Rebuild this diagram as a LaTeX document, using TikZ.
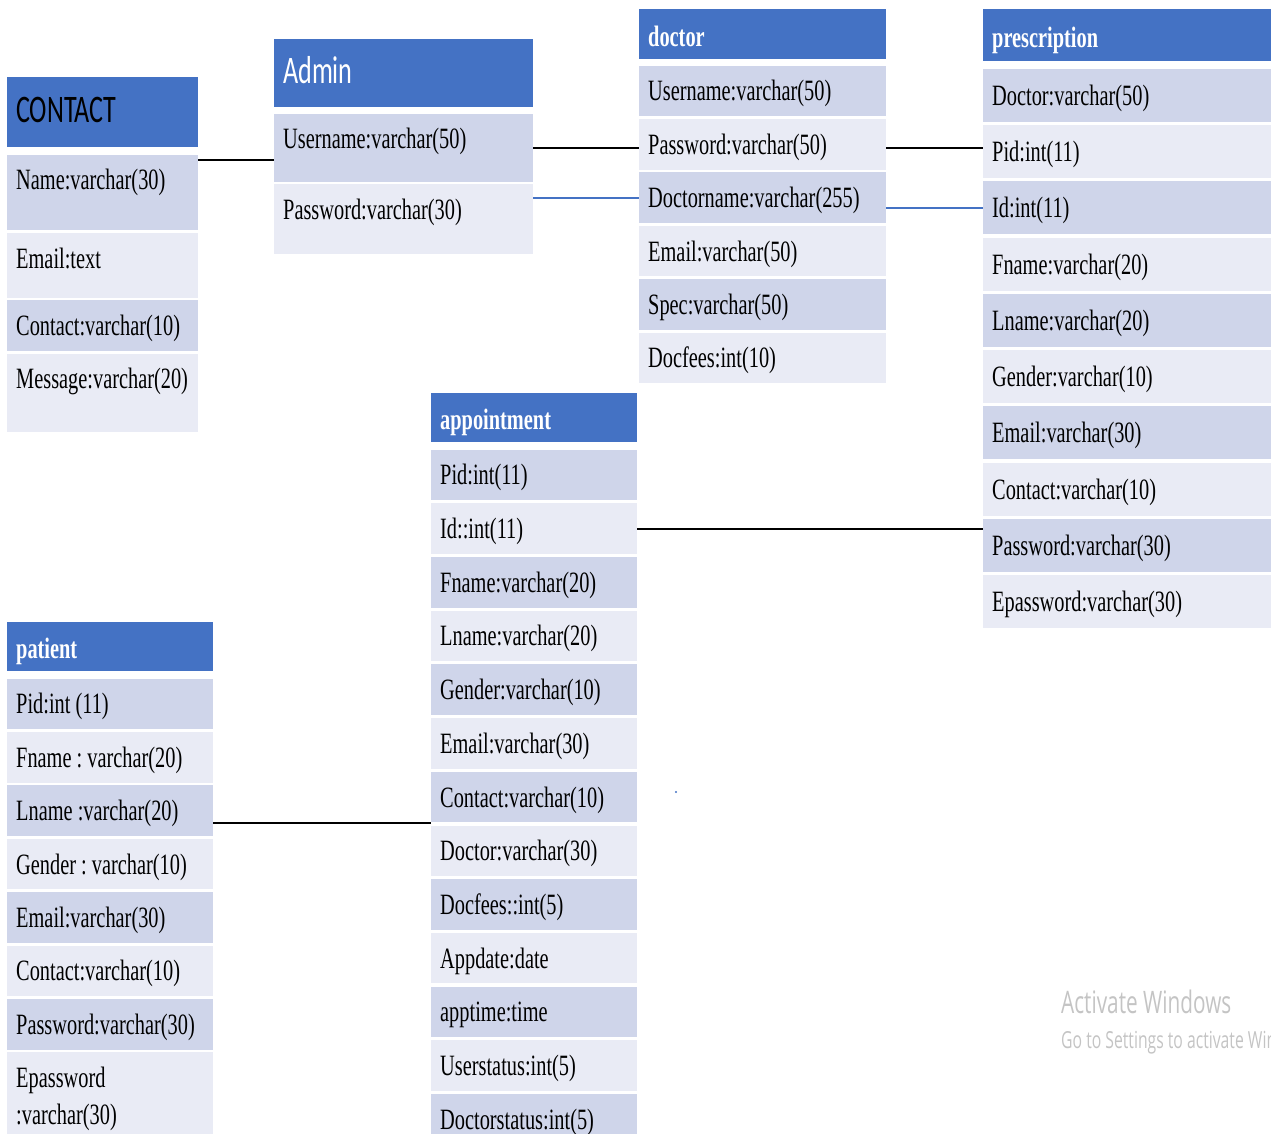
\documentclass[tikz,border=0pt]{standalone}
\usepackage{fontspec}
\usetikzlibrary{positioning}
\newfontfamily\cellfont[FakeStretch=0.69]{Liberation Serif}
\newfontfamily\headsans[FakeStretch=0.67]{Carlito}
\newfontfamily\winfont[FakeStretch=0.67]{Open Sans}
\definecolor{headblue}{HTML}{4472C4}
\definecolor{rowdark}{HTML}{CFD5EA}
\definecolor{rowlight}{HTML}{E9EBF5}
\definecolor{wingray}{HTML}{C4C4C4}
\tikzset{
  tbl head/.style={fill=headblue, text=white, anchor=north west,
    inner xsep=9pt, inner ysep=0pt, align=left,
    text height=24pt, text depth=0pt,
    font=\cellfont\bfseries\fontsize{29.5pt}{36pt}\selectfont},
  sans head/.style={tbl head, text height=20pt,
    font=\headsans\fontsize{39pt}{44pt}\selectfont},
  tbl cell/.style={inner xsep=9pt, inner ysep=0pt, align=left,
    text height=23pt, text depth=3pt, minimum height=50.5pt,
    execute at begin node={\frenchspacing\spaceskip=0pt\xspaceskip=0pt},
    font=\cellfont\fontsize{29.5pt}{37pt}\selectfont},
  row dark/.style={tbl cell, fill=rowdark},
  row light/.style={tbl cell, fill=rowlight},
  top cell/.style={text height=35pt, text depth=#1, minimum height=0pt},
  contact tbl/.style={text width=173pt},
  admin tbl/.style={text width=241pt},
  doctor tbl/.style={text width=229pt},
  presc tbl/.style={text width=299pt, minimum height=53pt},
  appt tbl/.style={text width=188pt},
  patient tbl/.style={text width=188pt},
  link/.style={draw=black, line width=2pt},
  blue link/.style={draw=headblue, line width=1.8pt},
}

\begin{document}
\begin{tikzpicture}[x=1pt, y=1pt]
  \useasboundingbox (0,0) rectangle (1271,-1133);

  % CONTACT
  \node[sans head, contact tbl, text=black, minimum height=70pt] (chead) at (7,-77) {CONTACT};
  \node[row dark, contact tbl, top cell=40pt, below=7pt of chead] (cname) {Name:varchar(30)};
  \node[row light, contact tbl, top cell=30pt, below=3pt of cname] (cemail) {Email:text};
  \node[row dark, contact tbl, top cell=16pt, below=2pt of cemail] (ccontact) {Contact:varchar(10)};
  \node[row light, contact tbl, top cell=43pt, below=2pt of ccontact] (cmsg) {Message:varchar(20)};

  % Admin
  \node[sans head, admin tbl, minimum height=68pt] (adhead) at (274,-39) {Admin};
  \node[row dark, admin tbl, top cell=33pt, below=6pt of adhead] (aduser) {Username:varchar(50)};
  \node[row light, admin tbl, top cell=35pt, below=2pt of aduser] (adpass) {Password:varchar(30)};

  % doctor
  \node[tbl head, doctor tbl, minimum height=50pt] (dhead) at (639,-9) {doctor};
  \node[row dark, doctor tbl, below=6pt of dhead] (duser) {Username:varchar(50)};
  \node[row light, doctor tbl, below=2.5pt of duser] (dpass) {Password:varchar(50)};
  \node[row dark, doctor tbl, below=2.5pt of dpass] (dname) {Doctorname:varchar(255)};
  \node[row light, doctor tbl, below=2.5pt of dname] (demail) {Email:varchar(50)};
  \node[row dark, doctor tbl, below=2.5pt of demail] (dspec) {Spec:varchar(50)};
  \node[row light, doctor tbl, below=2.5pt of dspec] (dfees) {Docfees:int(10)};

  % prescription
  \node[tbl head, presc tbl, minimum height=52pt] (phead) at (983,-9) {prescription};
  \node[row dark, presc tbl, below=7pt of phead] (pdoc) {Doctor:varchar(50)};
  \node[row light, presc tbl, below=2.9pt of pdoc] (ppid) {Pid:int(11)};
  \node[row dark, presc tbl, below=2.9pt of ppid] (pid) {Id:int(11)};
  \node[row light, presc tbl, below=2.9pt of pid] (pfname) {Fname:varchar(20)};
  \node[row dark, presc tbl, below=2.9pt of pfname] (plname) {Lname:varchar(20)};
  \node[row light, presc tbl, below=2.9pt of plname] (pgender) {Gender:varchar(10)};
  \node[row dark, presc tbl, below=2.9pt of pgender] (pemail) {Email:varchar(30)};
  \node[row light, presc tbl, below=2.9pt of pemail] (pcontact) {Contact:varchar(10)};
  \node[row dark, presc tbl, below=2.9pt of pcontact] (ppass) {Password:varchar(30)};
  \node[row light, presc tbl, below=2.9pt of ppass] (pepass) {Epassword:varchar(30)};

  % appointment
  \node[tbl head, appt tbl, minimum height=49pt] (aphead) at (431,-393) {appointment};
  \node[row dark, appt tbl, below=7pt of aphead] (appid) {Pid:int(11)};
  \node[row light, appt tbl, below=2.8pt of appid] (apid) {Id::int(11)};
  \node[row dark, appt tbl, below=2.8pt of apid] (apfname) {Fname:varchar(20)};
  \node[row light, appt tbl, below=2.8pt of apfname] (aplname) {Lname:varchar(20)};
  \node[row dark, appt tbl, below=2.8pt of aplname] (apgender) {Gender:varchar(10)};
  \node[row light, appt tbl, below=2.8pt of apgender] (apemail) {Email:varchar(30)};
  \node[row dark, appt tbl, below=2.8pt of apemail] (apcontact) {Contact:varchar(10)};
  \node[row light, appt tbl, below=2.8pt of apcontact] (apdoctor) {Doctor:varchar(30)};
  \node[row dark, appt tbl, below=2.8pt of apdoctor] (apfees) {Docfees::int(5)};
  \node[row light, appt tbl, below=2.8pt of apfees] (apdate) {Appdate:date};
  \node[row dark, appt tbl, below=2.8pt of apdate] (aptime) {apptime:time};
  \node[row light, appt tbl, below=2.8pt of aptime] (apustat) {Userstatus:int(5)};
  \node[row dark, appt tbl, below=2.8pt of apustat] (apdstat) {Doctorstatus:int(5)};

  % patient
  \node[tbl head, patient tbl, minimum height=49pt] (pthead) at (7,-622) {patient};
  \node[row dark, patient tbl, below=7pt of pthead] (ptpid) {Pid:int (11)};
  \node[row light, patient tbl, below=2.5pt of ptpid] (ptfname) {Fname : varchar(20)};
  \node[row dark, patient tbl, below=2.5pt of ptfname] (ptlname) {Lname :varchar(20)};
  \node[row light, patient tbl, below=2.5pt of ptlname] (ptgender) {Gender : varchar(10)};
  \node[row dark, patient tbl, below=2.5pt of ptgender] (ptemail) {Email:varchar(30)};
  \node[row light, patient tbl, below=2.5pt of ptemail] (ptcontact) {Contact:varchar(10)};
  \node[row dark, patient tbl, below=2.5pt of ptcontact] (ptpass) {Password:varchar(30)};
  \node[row light, patient tbl, top cell=60pt, below=2.5pt of ptpass] (ptepass) {Epassword\\:varchar(30)};

  % links
  \coordinate (cl) at ([yshift=-6pt]cname.north east);
  \draw[link] (cl) -- (cl -| aduser.west);
  \draw[link] (aduser.east) -- (aduser.east -| dpass.west);
  \draw[blue link] (adpass.east |- dname.west) -- (dname.west);
  \coordinate (pl) at ([yshift=3.5pt]ppid.west);
  \draw[link] (dpass.east |- pl) -- (pl);
  \draw[blue link] (dname.east |- pid.west) -- (pid.west);
  \draw[link] (apid.east) -- (apid.east -| ppass.west);
  \coordinate (tl) at ([yshift=-12pt]ptlname.east);
  \draw[link] (tl) -- (tl -| apcontact.west);

  \fill[headblue] (676,-792) circle (1.2pt);

  % watermark
  \node[anchor=base west, inner sep=0pt, text=wingray, font=\winfont\fontsize{31pt}{36pt}\selectfont] (act) at (1061,-1013) {Activate Windows};
  \node[anchor=base west, inner sep=0pt, text=wingray, font=\winfont\fontsize{23.5pt}{28pt}\selectfont] (gotoset) at (1061,-1048) {Go to Settings to activate Windows.};

\end{tikzpicture}
\end{document}
